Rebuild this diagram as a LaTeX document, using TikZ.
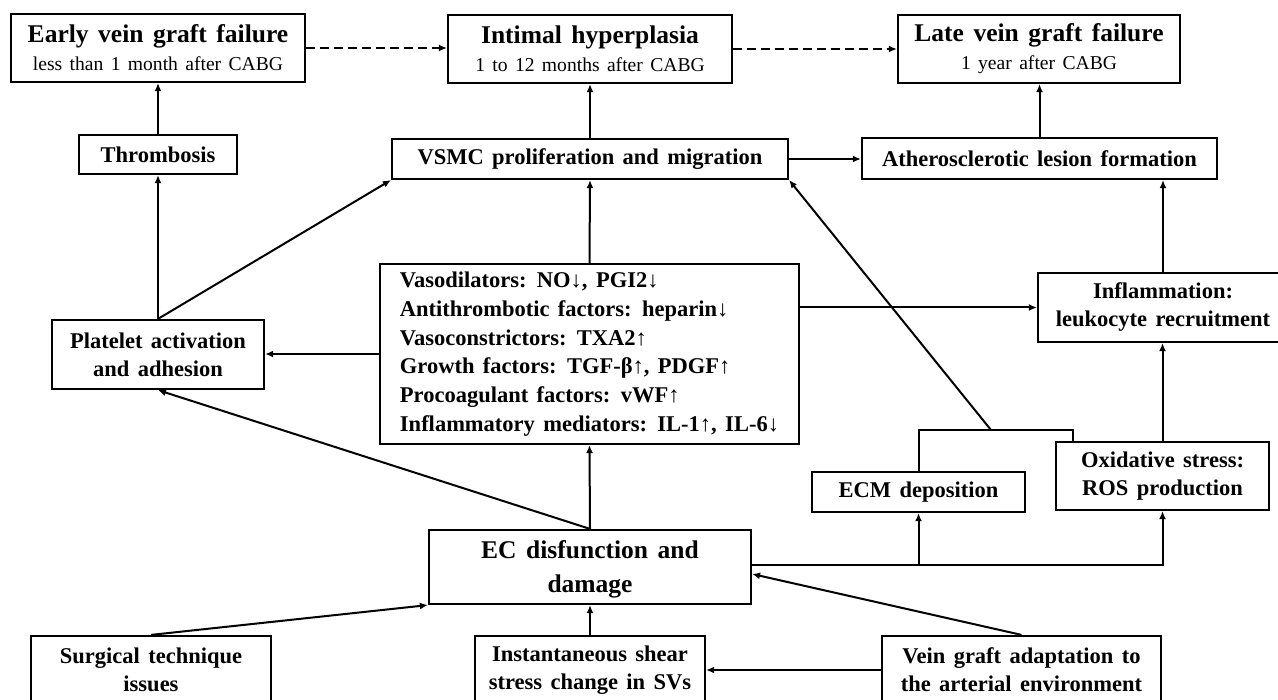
\documentclass[tikz,border=0pt]{standalone}
\usepackage{fontspec}
\setmainfont{Liberation Serif}[WordSpace=1.5]
\usetikzlibrary{arrows.meta}
\begin{document}
\begin{tikzpicture}[x=1pt,y=-1pt,
  box/.style={draw, line width=2.2pt, inner sep=0pt, align=center, fill=white,
              font=\bfseries\fontsize{22.5}{28}\selectfont},
  big/.style={font=\bfseries\fontsize{25.5}{28}\selectfont},
  arr/.style={line width=2pt, -{Latex[length=8pt,width=7pt]}},
  darr/.style={line width=2.6pt, -{Latex[length=8pt,width=7pt]}, dash pattern=on 9pt off 5pt},
  ln/.style={line width=2pt}]
\useasboundingbox (0,0) rectangle (1278,700);
\fill[white] (0,0) rectangle (1278,700);
\clip (0,0) rectangle (1278,700);
\newcommand{\subt}[1]{{\mdseries\fontsize{19.6}{28}\selectfont #1}}

% top row
\node[box, big, minimum width=294pt, minimum height=68pt] (early) at (158,48)
  {Early vein graft failure\\ \subt{less than 1 month after CABG}};
\node[box, big, minimum width=284pt, minimum height=68pt] (intimal) at (590,49)
  {Intimal hyperplasia\\ \subt{1 to 12 months after CABG}};
\node[box, big, minimum width=282pt, minimum height=68pt] (late) at (1039,49)
  {Late vein graft failure\\ \subt{1 year after CABG}};

% second row
\node[box, minimum width=158pt, minimum height=39pt] (thromb) at (158,154.5) {Thrombosis};
\node[box, minimum width=396pt, minimum height=40pt] (vsmc) at (590,159) {VSMC proliferation and migration};
\node[box, minimum width=355pt, minimum height=41pt] (ath) at (1039.5,158.5) {Atherosclerotic lesion formation};

% middle
\node[box, align=left, minimum width=419pt, minimum height=180pt,
      font=\bfseries\fontsize{22.5}{28.7}\selectfont] (mid) at (589.5,354)
  {Vasodilators: NO↓, PGI2↓\\
   Antithrombotic factors: heparin↓\\
   Vasoconstrictors: TXA2↑\\
   Growth factors: TGF-β↑, PDGF↑\\
   Procoagulant factors: vWF↑\\
   Inflammatory mediators: IL-1↑, IL-6↓};
\node[box, minimum width=212pt, minimum height=69pt] (platelet) at (158,354.5)
  {Platelet activation\\ and adhesion};
\node[box, minimum width=250pt, minimum height=69pt] (infl) at (1163,307.5)
  {Inflammation:\\ leukocyte recruitment};
\node[box, minimum width=213pt, minimum height=40pt] (ecm) at (918.5,492) {ECM deposition};
\node[box, minimum width=213pt, minimum height=68pt] (oxid) at (1162.5,476)
  {Oxidative stress:\\ ROS production};
\node[box, minimum width=322pt, minimum height=74pt, font=\bfseries\fontsize{25.5}{34}\selectfont] (ec) at (590,567)
  {\rule{0pt}{22pt}EC disfunction and\\ damage};

% bottom row
\node[box, minimum width=240pt, minimum height=68pt] (surg) at (151,670)
  {Surgical technique\\ issues};
\node[box, minimum width=230pt, minimum height=68pt] (inst) at (590,670)
  {Instantaneous shear\\ stress change in SVs};
\node[box, minimum width=279pt, minimum height=68pt] (vein) at (1021.5,670)
  {Vein graft adaptation to\\ the arterial environment};

% helper coordinates
\coordinate (ecR) at ([yshift=2pt]ec.east);
\coordinate (ecV) at ([yshift=-7pt]ec.east);
\coordinate (brR) at (1073,430);
\coordinate (brT) at (991,430);

% connectors
\draw[darr] (early.east) -- (early.east -| intimal.west);
\draw[darr] (intimal.east) -- (intimal.east -| late.west);
\draw[arr] (thromb.north) -- (early.south);
\draw[arr] (platelet.north) -- (thromb.south);
\draw[arr] (platelet.north) -- (vsmc.south west);
\draw[arr] (vsmc.north) -- (intimal.south);
\draw[arr] (mid.north) -- (vsmc.south);
\draw[arr] (vsmc.east) -- (vsmc.east -| ath.west);
\draw[arr] (ath.north) -- (ath.north |- late.south);
\draw[arr] (mid.west) -- (mid.west -| platelet.east);
\draw[arr] (mid.east |- infl.west) -- (infl.west);
\draw[arr] (infl.north) -- (infl.north |- ath.south);
\draw[arr] (oxid.north) -- (oxid.north |- infl.south);
\draw[arr] (ec.north) -- (mid.south);
\draw[arr] (ec.north) -- (platelet.south);
\draw[arr] (ecR) -| (oxid.south);
\draw[arr] (ecm.south |- ecR) -- (ecm.south);
\draw[ln] (ecm.north) |- (brR) -- (brR |- oxid.north);
\draw[arr] (brT) -- (vsmc.south east);
\draw[arr] (surg.north) -- (ec.south west);
\draw[arr] (inst.north) -- (ec.south);
\draw[arr] (vein.north) -- (ecV);
\draw[arr] (vein.west) -- (inst.east);
\end{tikzpicture}
\end{document}
